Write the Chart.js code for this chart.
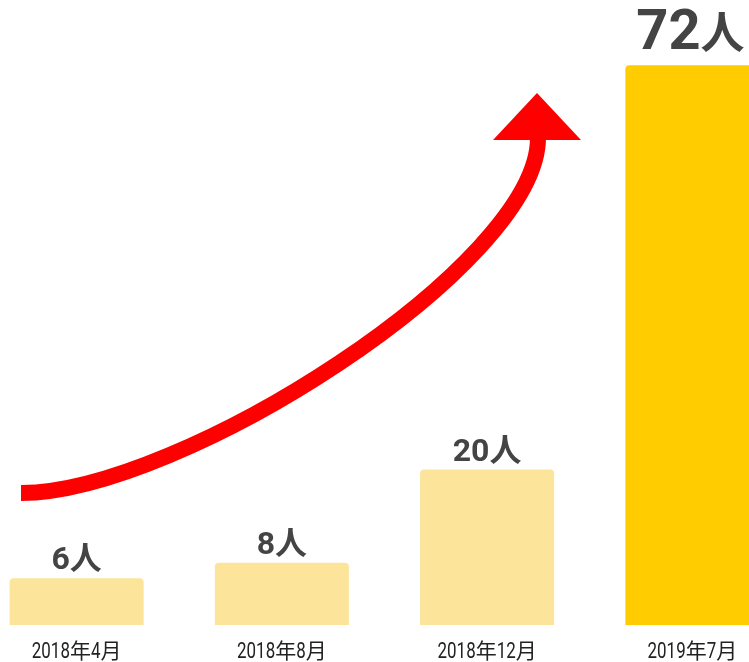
<!DOCTYPE html>
<html>
<head>
<meta charset="utf-8">
<script src="https://cdn.jsdelivr.net/npm/chart.js@4.4.1/dist/chart.umd.min.js"></script>
<style>
  html, body { margin: 0; padding: 0; background: #ffffff; overflow: hidden; width: 749px; height: 662px; }
  #wrap { position: absolute; left: -26px; top: 0; width: 821px; height: 662px; }
</style>
</head>
<body>
<div id="wrap"><canvas id="c" width="821" height="662"></canvas></div>
<script>
// ---- data ----
const categories = ['2018年4月', '2018年8月', '2018年12月', '2019年7月'];
const members = [6, 8, 20, 72];
const unitLabel = '人';
const highlightIndex = 3;

// ---- styles ----
const lightColor = '#FDE49B';
const strongColor = '#FFCC00';
const valueColor = '#444444';
const axisColor = '#222222';
const OFFSET_X = 26; // canvas is shifted left by this many px

function splitRuns(text) {
  const runs = [];
  const re = /[0-9A-Za-z.]+|[^0-9A-Za-z.]+/g;
  let m;
  while ((m = re.exec(text)) !== null) {
    runs.push({ t: m[0], latin: /^[0-9A-Za-z.]/.test(m[0]) });
  }
  return runs;
}

function drawMixed(ctx, text, cx, baseline, latinFont, cjkFont, latinScale, color) {
  const runs = splitRuns(text);
  let total = 0;
  runs.forEach(r => {
    ctx.font = r.latin ? latinFont : cjkFont;
    r.w = ctx.measureText(r.t).width * (r.latin ? latinScale : 1);
    total += r.w;
  });
  let x = cx - total / 2;
  ctx.fillStyle = color;
  ctx.textBaseline = 'alphabetic';
  ctx.textAlign = 'left';
  runs.forEach(r => {
    ctx.save();
    ctx.font = r.latin ? latinFont : cjkFont;
    ctx.translate(x, baseline);
    if (r.latin) ctx.scale(latinScale, 1);
    ctx.fillText(r.t, 0, 0);
    ctx.restore();
    x += r.w;
  });
}

const labelPlugin = {
  id: 'labels',
  afterDatasetsDraw(chart) {
    const ctx = chart.ctx;
    const meta = chart.getDatasetMeta(0);
    const xScale = chart.scales.x;
    const area = chart.chartArea;
    // value labels
    meta.data.forEach((bar, i) => {
      const big = i === highlightIndex;
      const text = members[i] + unitLabel;
      if (big) {
        drawMixed(ctx, text, bar.x - 2, bar.y - 16,
          'bold 56px Roboto, "Noto Sans CJK JP"', 'bold 44px "Noto Sans CJK JP"', 1, valueColor);
      } else {
        drawMixed(ctx, text, bar.x, bar.y - 9,
          'bold 32px Roboto, "Noto Sans CJK JP"', 'bold 32px "Noto Sans CJK JP"', 1, valueColor);
      }
    });
    // category labels
    categories.forEach((c, i) => {
      const x = xScale.getPixelForValue(i);
      drawMixed(ctx, c, x, area.bottom + 33,
        '22px Roboto, "Noto Sans CJK JP"', '21px "Noto Sans CJK JP"', 0.77, axisColor);
    });
  },
  afterDraw(chart) {
    // decorative growth arrow
    const ctx = chart.ctx;
    ctx.save();
    ctx.translate(OFFSET_X, 0);
    ctx.strokeStyle = '#FF0000';
    ctx.fillStyle = '#FF0000';
    ctx.lineWidth = 16;
    ctx.lineCap = 'butt';
    ctx.beginPath();
    ctx.moveTo(21, 493);
    ctx.bezierCurveTo(180, 493, 538, 265, 538, 138);
    ctx.stroke();
    ctx.beginPath();
    ctx.moveTo(537, 93);
    ctx.lineTo(581, 140);
    ctx.lineTo(493, 140);
    ctx.closePath();
    ctx.fill();
    ctx.restore();
  }
};

function build() {
  new Chart(document.getElementById('c'), {
    type: 'bar',
    data: {
      labels: categories,
      datasets: [{
        data: members,
        backgroundColor: members.map((v, i) => i === highlightIndex ? strongColor : lightColor),
        borderWidth: 0,
        borderRadius: 4,
        borderSkipped: 'bottom',
        categoryPercentage: 1.0,
        barPercentage: 0.653
      }]
    },
    options: {
      responsive: false,
      animation: false,
      layout: { padding: { top: 3, bottom: 37, left: 0, right: 0 } },
      plugins: { legend: { display: false }, tooltip: { enabled: false } },
      scales: {
        x: { display: false, offset: true },
        y: { display: false, min: 0, max: 80 }
      }
    },
    plugins: [labelPlugin]
  });
}

const fontLoads = [
  'bold 32px Roboto', 'bold 56px Roboto', '22px Roboto',
  'bold 32px "Noto Sans CJK JP"', '21px "Noto Sans CJK JP"'
].map(f => document.fonts ? document.fonts.load(f, '0人年月') : Promise.resolve());
Promise.race([Promise.all(fontLoads), new Promise(r => setTimeout(r, 800))]).then(build, build);
</script>
</body>
</html>
